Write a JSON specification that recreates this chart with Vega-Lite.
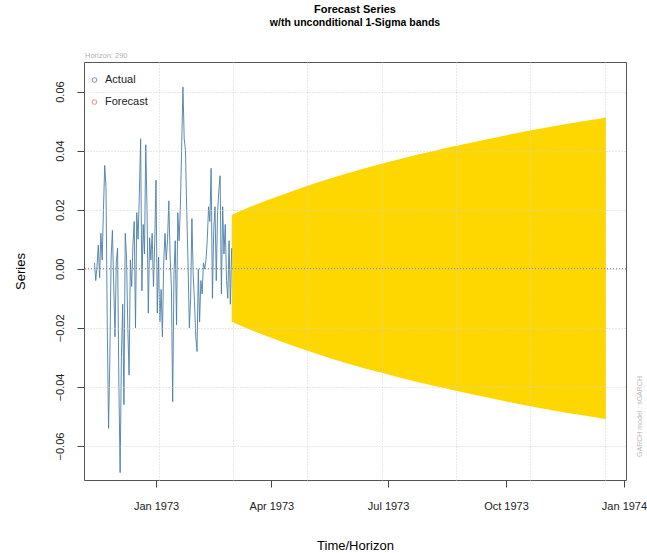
{
  "$schema": "https://vega.github.io/schema/vega-lite/v6.json",
  "width": 542,
  "height": 418,
  "autosize": "none",
  "padding": {"left": 84, "top": 62, "right": 21, "bottom": 73},
  "background": "white",
  "config": {
    "font": "Liberation Sans",
    "view": {"stroke": "#555", "strokeWidth": 1}
  },
  "title": {
    "text": "Forecast Series",
    "subtitle": "w/th unconditional 1-Sigma bands",
    "anchor": "middle",
    "font": "Liberation Sans",
    "fontSize": 11,
    "fontWeight": "bold",
    "color": "#000",
    "subtitleFont": "Liberation Sans",
    "subtitleFontSize": 10.5,
    "subtitleFontWeight": "bold",
    "subtitleColor": "#000",
    "subtitlePadding": 3,
    "offset": 24
  },
  "datasets": {
    "actual": [
      {"date": "1972-11-14", "value": 0.002, "series": "Actual"},
      {"date": "1972-11-15", "value": -0.004, "series": "Actual"},
      {"date": "1972-11-16", "value": 0.001, "series": "Actual"},
      {"date": "1972-11-17", "value": 0.008, "series": "Actual"},
      {"date": "1972-11-18", "value": -0.003, "series": "Actual"},
      {"date": "1972-11-19", "value": 0.012, "series": "Actual"},
      {"date": "1972-11-20", "value": 0.003, "series": "Actual"},
      {"date": "1972-11-21", "value": 0.020, "series": "Actual"},
      {"date": "1972-11-22", "value": 0.035, "series": "Actual"},
      {"date": "1972-11-23", "value": 0.0275, "series": "Actual"},
      {"date": "1972-11-24", "value": -0.020, "series": "Actual"},
      {"date": "1972-11-25", "value": -0.054, "series": "Actual"},
      {"date": "1972-11-26", "value": -0.030, "series": "Actual"},
      {"date": "1972-11-27", "value": 0.004, "series": "Actual"},
      {"date": "1972-11-28", "value": 0.013, "series": "Actual"},
      {"date": "1972-11-29", "value": -0.005, "series": "Actual"},
      {"date": "1972-11-30", "value": -0.023, "series": "Actual"},
      {"date": "1972-12-01", "value": 0.002, "series": "Actual"},
      {"date": "1972-12-02", "value": 0.007, "series": "Actual"},
      {"date": "1972-12-03", "value": -0.038, "series": "Actual"},
      {"date": "1972-12-04", "value": -0.069, "series": "Actual"},
      {"date": "1972-12-05", "value": -0.030, "series": "Actual"},
      {"date": "1972-12-06", "value": -0.012, "series": "Actual"},
      {"date": "1972-12-07", "value": -0.046, "series": "Actual"},
      {"date": "1972-12-08", "value": 0.012, "series": "Actual"},
      {"date": "1972-12-09", "value": 0.004, "series": "Actual"},
      {"date": "1972-12-10", "value": -0.020, "series": "Actual"},
      {"date": "1972-12-11", "value": -0.036, "series": "Actual"},
      {"date": "1972-12-12", "value": 0.003, "series": "Actual"},
      {"date": "1972-12-13", "value": -0.006, "series": "Actual"},
      {"date": "1972-12-14", "value": 0.008, "series": "Actual"},
      {"date": "1972-12-15", "value": 0.016, "series": "Actual"},
      {"date": "1972-12-16", "value": -0.020, "series": "Actual"},
      {"date": "1972-12-17", "value": 0.019, "series": "Actual"},
      {"date": "1972-12-18", "value": 0.010, "series": "Actual"},
      {"date": "1972-12-19", "value": 0.025, "series": "Actual"},
      {"date": "1972-12-20", "value": 0.044, "series": "Actual"},
      {"date": "1972-12-21", "value": -0.0075, "series": "Actual"},
      {"date": "1972-12-22", "value": 0.015, "series": "Actual"},
      {"date": "1972-12-23", "value": 0.005, "series": "Actual"},
      {"date": "1972-12-24", "value": 0.042, "series": "Actual"},
      {"date": "1972-12-25", "value": 0.020, "series": "Actual"},
      {"date": "1972-12-26", "value": -0.015, "series": "Actual"},
      {"date": "1972-12-27", "value": 0.0105, "series": "Actual"},
      {"date": "1972-12-28", "value": 0.003, "series": "Actual"},
      {"date": "1972-12-29", "value": 0.012, "series": "Actual"},
      {"date": "1972-12-30", "value": -0.006, "series": "Actual"},
      {"date": "1972-12-31", "value": 0.009, "series": "Actual"},
      {"date": "1973-01-01", "value": 0.030, "series": "Actual"},
      {"date": "1973-01-02", "value": -0.015, "series": "Actual"},
      {"date": "1973-01-03", "value": 0.004, "series": "Actual"},
      {"date": "1973-01-04", "value": -0.018, "series": "Actual"},
      {"date": "1973-01-05", "value": -0.007, "series": "Actual"},
      {"date": "1973-01-06", "value": -0.023, "series": "Actual"},
      {"date": "1973-01-07", "value": 0.002, "series": "Actual"},
      {"date": "1973-01-08", "value": 0.012, "series": "Actual"},
      {"date": "1973-01-09", "value": 0.003, "series": "Actual"},
      {"date": "1973-01-10", "value": 0.010, "series": "Actual"},
      {"date": "1973-01-11", "value": 0.023, "series": "Actual"},
      {"date": "1973-01-12", "value": 0.004, "series": "Actual"},
      {"date": "1973-01-13", "value": -0.006, "series": "Actual"},
      {"date": "1973-01-14", "value": -0.045, "series": "Actual"},
      {"date": "1973-01-15", "value": -0.002, "series": "Actual"},
      {"date": "1973-01-16", "value": 0.0095, "series": "Actual"},
      {"date": "1973-01-17", "value": -0.019, "series": "Actual"},
      {"date": "1973-01-18", "value": 0.019, "series": "Actual"},
      {"date": "1973-01-19", "value": 0.0095, "series": "Actual"},
      {"date": "1973-01-20", "value": 0.021, "series": "Actual"},
      {"date": "1973-01-21", "value": 0.041, "series": "Actual"},
      {"date": "1973-01-22", "value": 0.0615, "series": "Actual"},
      {"date": "1973-01-23", "value": 0.044, "series": "Actual"},
      {"date": "1973-01-24", "value": 0.040, "series": "Actual"},
      {"date": "1973-01-25", "value": 0.019, "series": "Actual"},
      {"date": "1973-01-26", "value": 0.0017, "series": "Actual"},
      {"date": "1973-01-27", "value": -0.020, "series": "Actual"},
      {"date": "1973-01-28", "value": -0.010, "series": "Actual"},
      {"date": "1973-01-29", "value": 0.017, "series": "Actual"},
      {"date": "1973-01-30", "value": -0.002, "series": "Actual"},
      {"date": "1973-01-31", "value": -0.011, "series": "Actual"},
      {"date": "1973-02-01", "value": -0.023, "series": "Actual"},
      {"date": "1973-02-02", "value": -0.028, "series": "Actual"},
      {"date": "1973-02-03", "value": 0.000, "series": "Actual"},
      {"date": "1973-02-04", "value": -0.018, "series": "Actual"},
      {"date": "1973-02-05", "value": -0.004, "series": "Actual"},
      {"date": "1973-02-06", "value": -0.0085, "series": "Actual"},
      {"date": "1973-02-07", "value": 0.002, "series": "Actual"},
      {"date": "1973-02-08", "value": 0.000, "series": "Actual"},
      {"date": "1973-02-09", "value": 0.003, "series": "Actual"},
      {"date": "1973-02-10", "value": 0.010, "series": "Actual"},
      {"date": "1973-02-11", "value": 0.021, "series": "Actual"},
      {"date": "1973-02-12", "value": 0.016, "series": "Actual"},
      {"date": "1973-02-13", "value": 0.034, "series": "Actual"},
      {"date": "1973-02-14", "value": -0.010, "series": "Actual"},
      {"date": "1973-02-15", "value": 0.013, "series": "Actual"},
      {"date": "1973-02-16", "value": 0.021, "series": "Actual"},
      {"date": "1973-02-17", "value": -0.004, "series": "Actual"},
      {"date": "1973-02-18", "value": 0.019, "series": "Actual"},
      {"date": "1973-02-19", "value": 0.0265, "series": "Actual"},
      {"date": "1973-02-20", "value": 0.0315, "series": "Actual"},
      {"date": "1973-02-21", "value": -0.0085, "series": "Actual"},
      {"date": "1973-02-22", "value": 0.021, "series": "Actual"},
      {"date": "1973-02-23", "value": 0.005, "series": "Actual"},
      {"date": "1973-02-24", "value": 0.015, "series": "Actual"},
      {"date": "1973-02-25", "value": -0.004, "series": "Actual"},
      {"date": "1973-02-26", "value": -0.010, "series": "Actual"},
      {"date": "1973-02-27", "value": 0.0095, "series": "Actual"},
      {"date": "1973-02-28", "value": -0.012, "series": "Actual"},
      {"date": "1973-03-01", "value": 0.007, "series": "Actual"}
    ],
    "band": [
      {"date": "1973-03-02", "upper": 0.0180, "lower": -0.0177},
      {"date": "1973-03-15", "upper": 0.0204, "lower": -0.0201},
      {"date": "1973-03-28", "upper": 0.0226, "lower": -0.0223},
      {"date": "1973-04-10", "upper": 0.0247, "lower": -0.0244},
      {"date": "1973-04-23", "upper": 0.0267, "lower": -0.0264},
      {"date": "1973-05-06", "upper": 0.0286, "lower": -0.0283},
      {"date": "1973-05-19", "upper": 0.0304, "lower": -0.0301},
      {"date": "1973-06-01", "upper": 0.0321, "lower": -0.0318},
      {"date": "1973-06-14", "upper": 0.0337, "lower": -0.0334},
      {"date": "1973-06-27", "upper": 0.0352, "lower": -0.0349},
      {"date": "1973-07-10", "upper": 0.0367, "lower": -0.0364},
      {"date": "1973-07-23", "upper": 0.0381, "lower": -0.0378},
      {"date": "1973-08-05", "upper": 0.0394, "lower": -0.0391},
      {"date": "1973-08-18", "upper": 0.0407, "lower": -0.0404},
      {"date": "1973-08-31", "upper": 0.0419, "lower": -0.0416},
      {"date": "1973-09-13", "upper": 0.0431, "lower": -0.0428},
      {"date": "1973-09-26", "upper": 0.0443, "lower": -0.0440},
      {"date": "1973-10-09", "upper": 0.0455, "lower": -0.0452},
      {"date": "1973-10-22", "upper": 0.0466, "lower": -0.0463},
      {"date": "1973-11-04", "upper": 0.0476, "lower": -0.0473},
      {"date": "1973-11-17", "upper": 0.0486, "lower": -0.0483},
      {"date": "1973-11-30", "upper": 0.0495, "lower": -0.0492},
      {"date": "1973-12-13", "upper": 0.0504, "lower": -0.0501},
      {"date": "1973-12-17", "upper": 0.0507, "lower": -0.0504}
    ]
  },
  "resolve": {"axis": {"x": "independent"}},
  "layer": [
    {
      "data": {"name": "band"},
      "mark": {"type": "area", "color": "#FFD700", "stroke": "#FFD700", "strokeWidth": 2.5, "strokeJoin": "round", "interpolate": "linear"},
      "encoding": {
        "x": {
          "field": "date", "type": "temporal",
          "scale": {"type": "utc", "domain": [
            {"year": 1972, "month": 11, "date": 5, "hours": 20, "utc": true},
            {"year": 1974, "month": 1, "date": 2, "hours": 14, "utc": true}
          ]},
          "axis": {
            "orient": "bottom",
            "values": [
              {"year": 1973, "month": 1, "date": 3, "utc": true},
              {"year": 1973, "month": 3, "date": 2, "utc": true},
              {"year": 1973, "month": 4, "date": 29, "utc": true},
              {"year": 1973, "month": 6, "date": 26, "utc": true},
              {"year": 1973, "month": 8, "date": 23, "utc": true},
              {"year": 1973, "month": 10, "date": 20, "utc": true},
              {"year": 1973, "month": 12, "date": 17, "utc": true}
            ],
            "grid": true, "gridColor": "#d0d0d0", "gridDash": [1, 2], "gridWidth": 1,
            "labels": false, "ticks": false, "domain": false, "title": null, "zindex": 1
          }
        },
        "y": {
          "field": "upper", "type": "quantitative",
          "scale": {"domain": [-0.0715, 0.07], "nice": false, "zero": false},
          "axis": {
            "values": [-0.06, -0.04, -0.02, 0, 0.02, 0.04, 0.06],
            "format": ".2f",
            "labelAngle": 270,
            "labelAlign": "center",
            "labelBaseline": "bottom",
            "labelFontSize": 11,
            "labelColor": "#222",
            "labelPadding": 12,
            "tickSize": 7,
            "tickColor": "#444",
            "domain": false,
            "grid": true, "gridColor": "#d0d0d0", "gridDash": [1, 2], "gridWidth": 1,
            "zindex": 1,
            "title": "Series",
            "titleFontSize": 13,
            "titleFontWeight": "normal",
            "titleColor": "#000",
            "titlePadding": 27
          }
        },
        "y2": {"field": "lower"}
      }
    },
    {
      "data": {"name": "actual"},
      "mark": {"type": "line", "strokeWidth": 0.9, "interpolate": "linear"},
      "encoding": {
        "x": {
          "field": "date", "type": "temporal",
          "axis": {
            "orient": "bottom",
            "values": [
              {"year": 1973, "month": 1, "date": 1, "utc": true},
              {"year": 1973, "month": 4, "date": 1, "utc": true},
              {"year": 1973, "month": 7, "date": 1, "utc": true},
              {"year": 1973, "month": 10, "date": 1, "utc": true},
              {"year": 1974, "month": 1, "date": 1, "utc": true}
            ],
            "labelExpr": "utcFormat(datum.value, '%b %Y')",
            "labelFlush": false,
            "labelOverlap": false,
            "labelFontSize": 11,
            "labelColor": "#222",
            "labelPadding": 13,
            "tickSize": 7,
            "tickColor": "#444",
            "domain": false,
            "grid": false,
            "title": "Time/Horizon",
            "titleFontSize": 13,
            "titleFontWeight": "normal",
            "titleColor": "#000",
            "titlePadding": 28
          }
        },
        "y": {"field": "value", "type": "quantitative"},
        "color": {
          "field": "series", "type": "nominal",
          "scale": {"domain": ["Actual", "Forecast"], "range": ["#4a7ea8", "#e07a62"]},
          "legend": {
            "orient": "none", "legendX": 5, "legendY": 12.5,
            "title": null, "padding": 0,
            "symbolType": "circle", "symbolSize": 22, "symbolStrokeWidth": 0.8,
            "symbolFillColor": "transparent",
            "labelFontSize": 11, "labelColor": "#222", "labelOffset": 5,
            "rowPadding": 10
          }
        }
      }
    },
    {
      "data": {"values": [{}]},
      "mark": {"type": "rule", "color": "#777", "strokeDash": [1, 2], "strokeWidth": 1},
      "encoding": {"y": {"datum": 0}}
    },
    {
      "data": {"values": [{}]},
      "mark": {"type": "text", "align": "left", "baseline": "middle", "fontSize": 7.5, "color": "#b0b0b0"},
      "encoding": {
        "x": {"datum": 89906400000, "type": "temporal", "axis": null},
        "y": {"datum": 0.0719, "type": "quantitative"},
        "text": {"value": "Horizon: 290"}
      }
    },
    {
      "data": {"values": [{}]},
      "mark": {"type": "text", "align": "left", "baseline": "middle", "angle": 270, "fontSize": 7, "color": "#bbbbbb"},
      "encoding": {
        "x": {"datum": 127310400000, "type": "temporal", "axis": null},
        "y": {"datum": -0.0637, "type": "quantitative"},
        "text": {"value": "GARCH model : sGARCH"}
      }
    }
  ]
}
